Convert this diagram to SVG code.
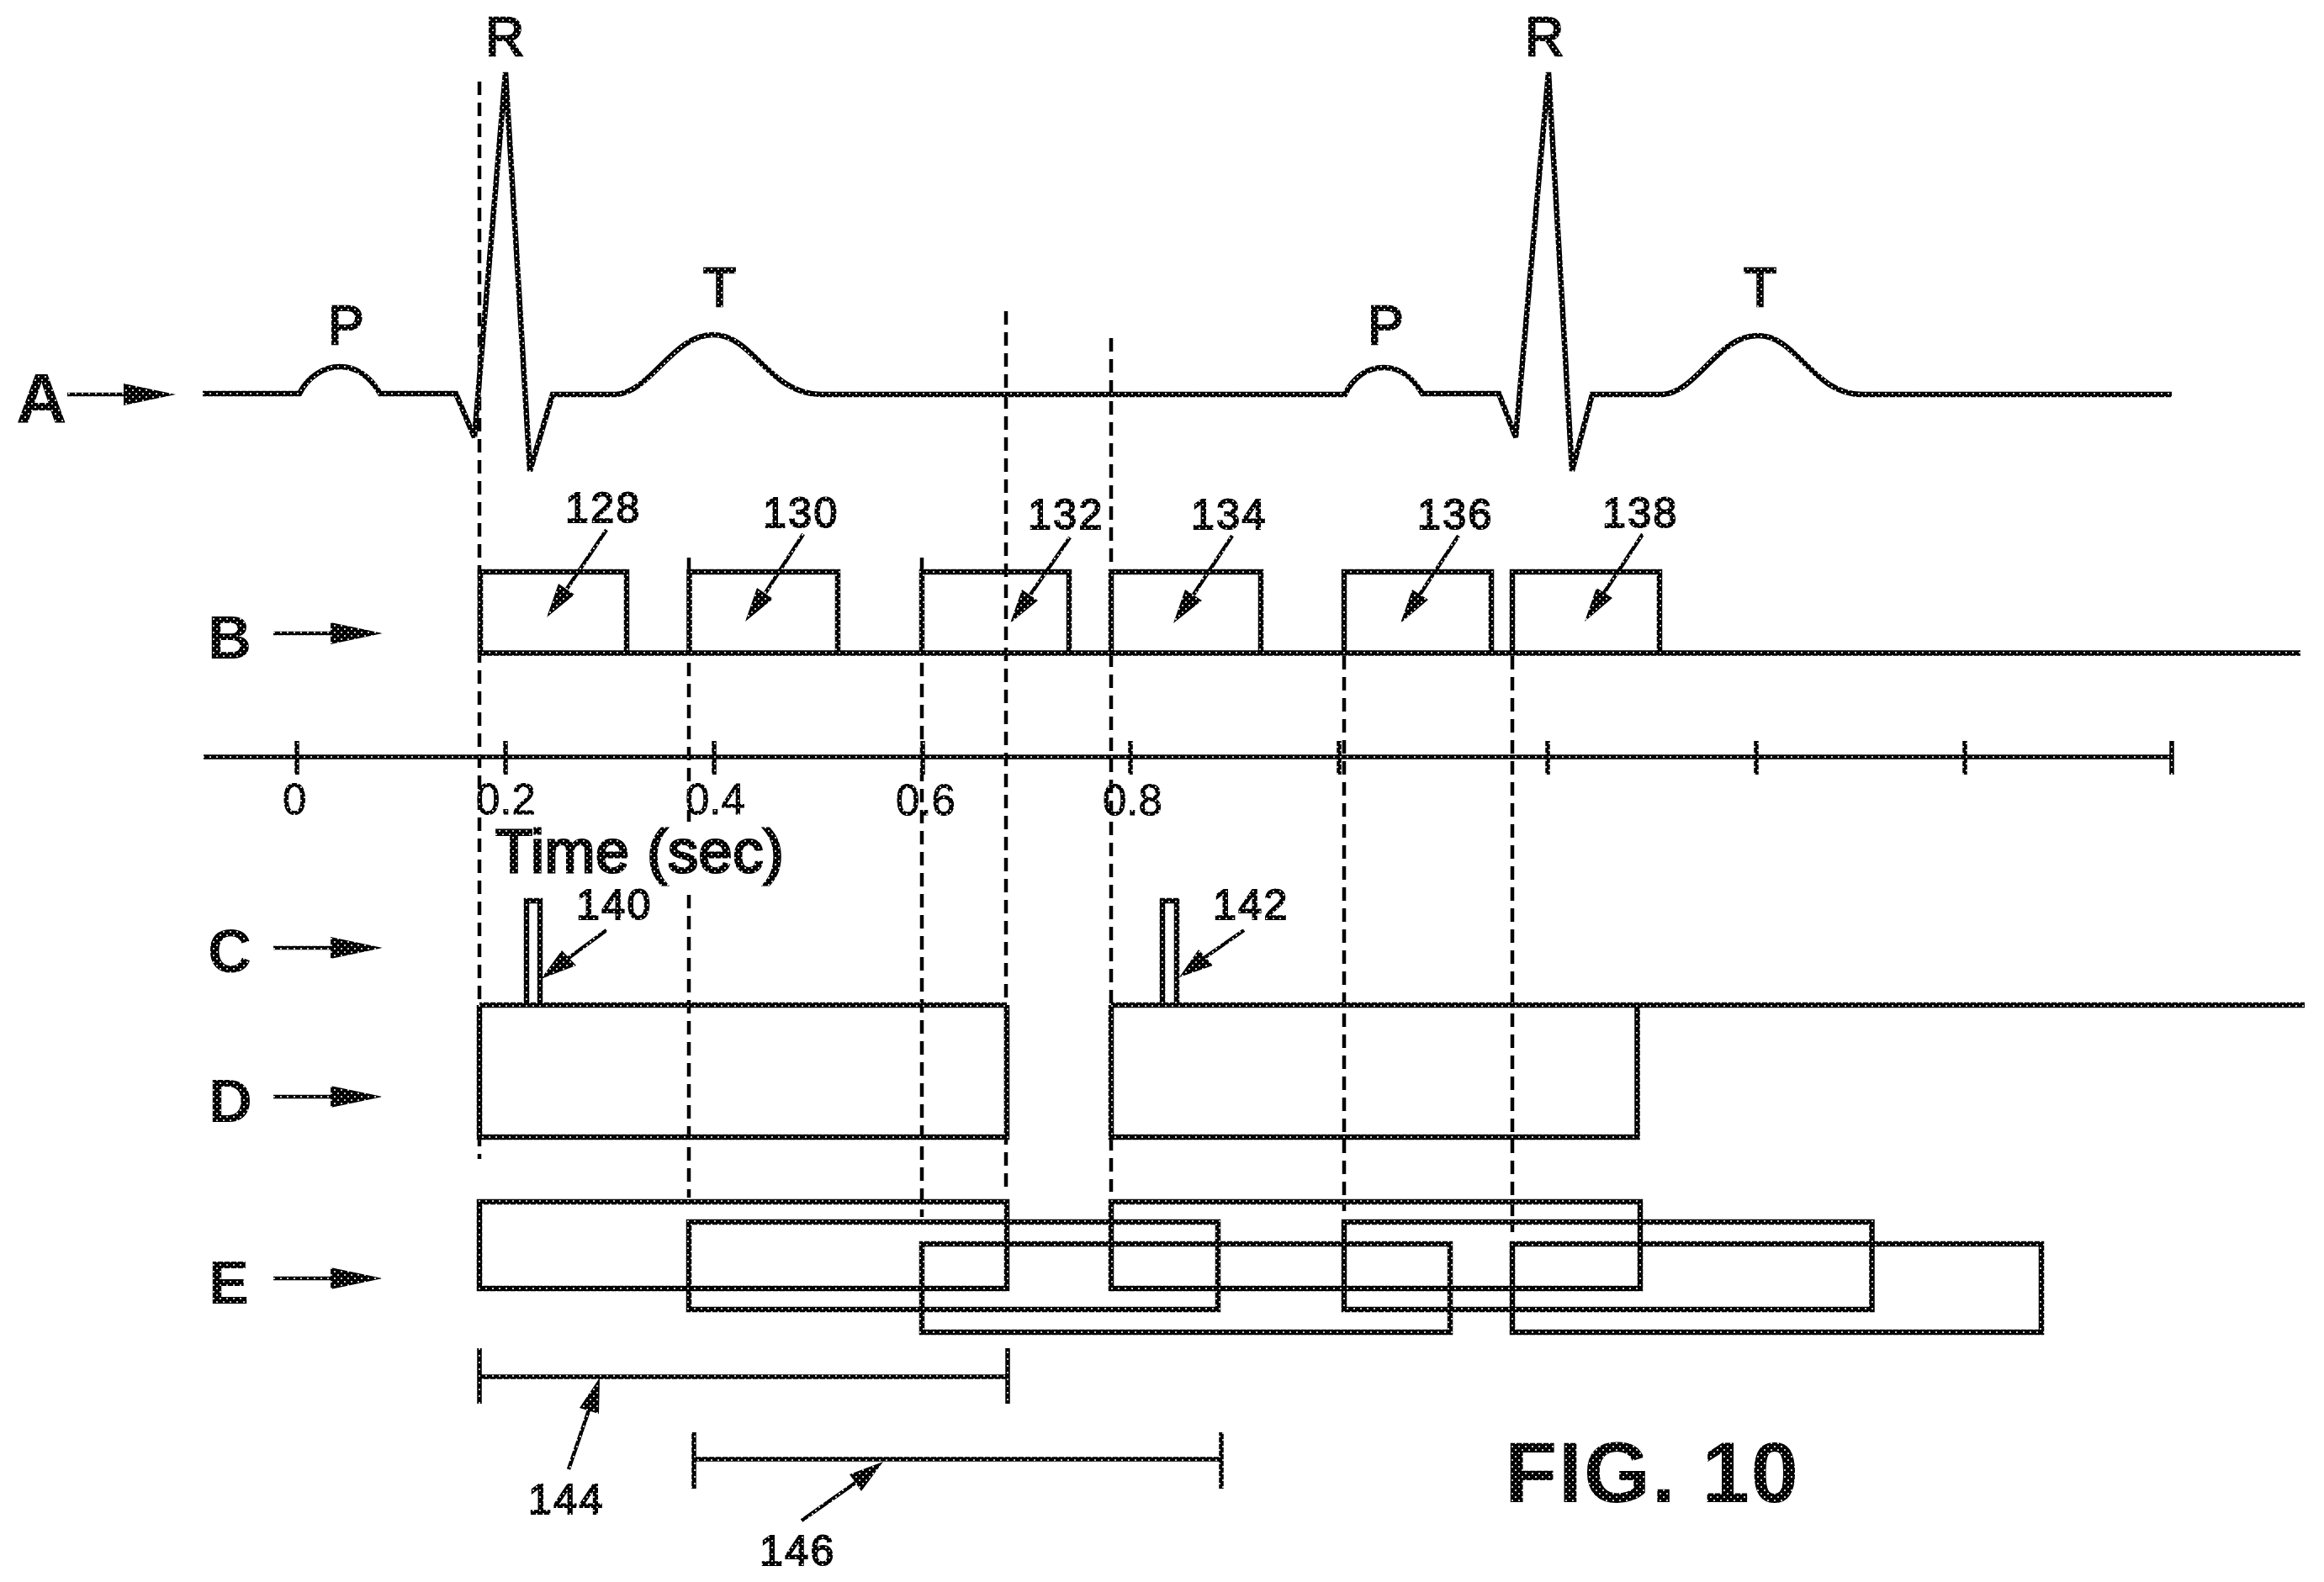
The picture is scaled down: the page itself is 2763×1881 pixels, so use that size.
<svg xmlns="http://www.w3.org/2000/svg" width="2763" height="1881" viewBox="0 0 2763 1881">
<defs>
<pattern id="ht" patternUnits="userSpaceOnUse" width="8" height="8">
<rect width="8" height="8" fill="#000"/>
<circle cx="6" cy="0" r="1.1" fill="#fff"/><circle cx="6" cy="8" r="1.1" fill="#fff"/><circle cx="2" cy="4" r="1.1" fill="#fff"/>
</pattern>
</defs>
<style>
.s{fill:none;stroke:url(#ht);stroke-width:6.5;stroke-linejoin:miter}
.t{fill:none;stroke:url(#ht);stroke-width:5.5}
.d{fill:none;stroke:#000;stroke-width:4.5;stroke-dasharray:16 9}
.l{fill:none;stroke:url(#ht);stroke-width:4.5}
.h{fill:url(#ht);stroke:none}
text{font-family:"Liberation Sans",Arial,sans-serif;fill:url(#ht)}
.n{font-size:50px;letter-spacing:2.500px;stroke:url(#ht);stroke-width:2}
.w{font-size:64px;stroke:url(#ht);stroke-width:2.500}
.r{font-size:72px;font-weight:bold}
.x{font-size:51px;stroke:url(#ht);stroke-width:1}
</style>
<rect width="2763" height="1881" fill="#fff"/>

<g id="connectors">
<g id="dashes">
<line class="d" x1="570" y1="97" x2="570" y2="1378"/>
<line class="d" x1="819" y1="663" x2="819" y2="977"/>
<line class="d" x1="819" y1="1064" x2="819" y2="1424"/>
<line class="d" x1="1096" y1="663" x2="1096" y2="1447"/>
<line class="d" x1="1196" y1="370" x2="1196" y2="1416"/>
<line class="d" x1="1321" y1="402" x2="1321" y2="1417"/>
<line class="d" x1="1598" y1="780" x2="1598" y2="1440"/>
<line class="d" x1="1798" y1="780" x2="1798" y2="1465"/>
</g>
<g id="row-arrows">
<line class="l" x1="80" y1="469" x2="150" y2="469"/><polygon class="h" points="147,456 209,469 147,482"/>
<line class="l" x1="325" y1="753" x2="396" y2="753"/><polygon class="h" points="393,740 455,753 393,766"/>
<line class="l" x1="325" y1="1127" x2="396" y2="1127"/><polygon class="h" points="393,1114 455,1127 393,1140"/>
<line class="l" x1="325" y1="1304" x2="396" y2="1304"/><polygon class="h" points="393,1291 455,1304 393,1317"/>
<line class="l" x1="325" y1="1520" x2="396" y2="1520"/><polygon class="h" points="393,1507 455,1520 393,1533"/>
</g>
<g id="leaders">
<line class="l" x1="721" y1="630" x2="674" y2="700"/><polygon class="h" points="650,734 664,694 683,707"/>
<line class="l" x1="955" y1="635" x2="910" y2="705"/><polygon class="h" points="886,739 900,699 919,712"/>
<line class="l" x1="1272" y1="639" x2="1225" y2="707"/><polygon class="h" points="1201,741 1215,701 1234,714"/>
<line class="l" x1="1465" y1="637" x2="1419" y2="707"/><polygon class="h" points="1395,741 1409,701 1429,714"/>
<line class="l" x1="1734" y1="637" x2="1688" y2="707"/><polygon class="h" points="1665,741 1679,701 1698,713"/>
<line class="l" x1="1953" y1="635" x2="1907" y2="705"/><polygon class="h" points="1884,739 1898,699 1917,711"/>
<line class="l" x1="721" y1="1106" x2="676" y2="1139"/><polygon class="h" points="643,1164 668,1130 685,1148"/>
<line class="l" x1="1479" y1="1106" x2="1433" y2="1138"/><polygon class="h" points="1402,1162 1425,1129 1442,1148"/>
<line class="l" x1="676" y1="1747" x2="700" y2="1677"/><polygon class="h" points="713,1638 689,1674 712,1681"/>
<line class="l" x1="953" y1="1808" x2="1017" y2="1763"/><polygon class="h" points="1050,1738 1010,1753 1024,1773"/>
</g>
</g>

<g id="wave-a">
<path class="s" d="M241,468 H356 C366,448 385,436 404,436 C424,436 440,448 452,468 H542 L564,520 L601,86 L630,560 L657,469 H733 C775,465 800,398 848,398 C895,398 915,469 976,469 H1599 C1609,448 1626,437 1645,437 C1665,437 1679,448 1691,468 H1782 L1802,520 L1841,86 L1869,560 L1893,469 H1977 C2019,465 2042,399 2090,399 C2137,399 2155,469 2214,469 H2582"/>
</g>

<g id="row-b">
<path class="s" d="M571,776 V680 H745 V776 M819.500,776 V680 H996 V776 M1096,776 V680 H1271 V776 M1321,776 V680 H1499 V776 M1598,776 V680 H1773 V776 M1798,776 V680 H1973 V776"/>
<line class="s" x1="568" y1="776.500" x2="2735" y2="776.500"/>
</g>

<g id="time-axis">
<path class="t" d="M242,900 H2582 M353,881 V921 M601,881 V921 M849,881 V921 M1097,881 V921 M1344,881 V921 M1592,881 V921 M1840,881 V921 M2088,881 V921 M2336,881 V921 M2582,881 V921"/>
<text class="x" x="336" y="968">0</text>
<text class="x" x="566" y="968">0.2</text>
<text class="x" x="815" y="968">0.4</text>
<text class="x" x="1065" y="969">0.6</text>
<text class="x" x="1311" y="969">0.8</text>
<text x="589" y="1037" font-size="72" letter-spacing="0.6" stroke="url(#ht)" stroke-width="3">Time (sec)</text>
</g>

<g id="row-c-d">
<path class="s" d="M626,1195 V1071 H642 V1195 M1382,1195 V1071 H1399 V1195"/>
<path class="s" d="M1197,1195 V1352 H570 V1195 M570,1195 H1197 M1321,1195 V1352 H1946.500 V1195 M1321,1195 H2740"/>
</g>

<g id="row-e">
<rect class="s" x="570" y="1429" width="627" height="103"/>
<rect class="s" x="819" y="1453" width="629" height="104"/>
<rect class="s" x="1096" y="1479" width="628" height="105"/>
<rect class="s" x="1321" y="1429" width="629" height="103"/>
<rect class="s" x="1598" y="1453" width="627.500" height="104"/>
<rect class="s" x="1798" y="1479" width="629" height="105"/>
</g>

<g id="spans">
<path class="t" d="M570,1603 V1669 M1198,1603 V1669 M570,1637 H1198"/>
<path class="t" d="M825,1703 V1770 M1452,1703 V1770 M825,1735 H1452"/>
</g>

<g id="labels">
<text class="w" x="577" y="66">R</text>
<text class="w" x="1813" y="66">R</text>
<text class="w" x="390" y="409">P</text>
<text class="w" x="1626" y="409">P</text>
<text class="w" x="836" y="364">T</text>
<text class="w" x="2073" y="364">T</text>
<text x="19" y="503" font-size="84" font-weight="bold">A</text>
<text class="r" x="247" y="783">B</text>
<text class="r" x="247" y="1156">C</text>
<text class="r" x="248" y="1334">D</text>
<text class="r" x="248" y="1550">E</text>
<text class="n" x="672" y="621">128</text>
<text class="n" x="907" y="627">130</text>
<text class="n" x="1222" y="629">132</text>
<text class="n" x="1416" y="629">134</text>
<text class="n" x="1685" y="629">136</text>
<text class="n" x="1905" y="627">138</text>
<text class="n" x="685" y="1093">140</text>
<text class="n" x="1442" y="1093">142</text>
<text class="n" x="628" y="1800">144</text>
<text class="n" x="903" y="1861">146</text>
<text x="1789" y="1786" font-size="102" font-weight="bold" letter-spacing="1.500">FIG. 10</text>
</g>
</svg>
